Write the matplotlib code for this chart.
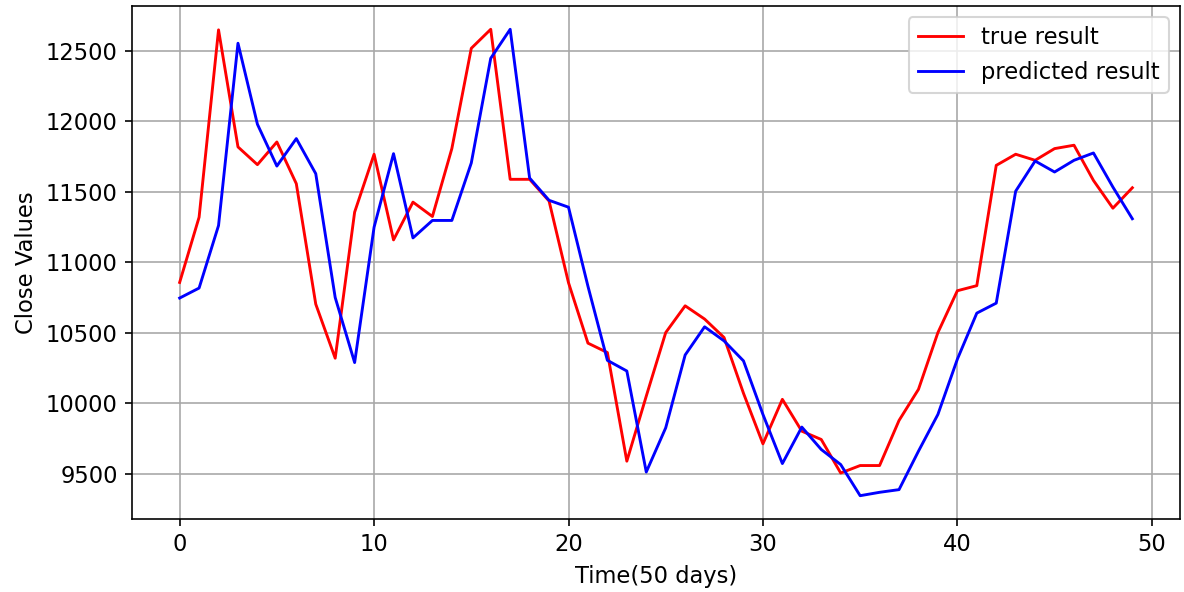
import numpy as np
import matplotlib
matplotlib.use('Agg')
import matplotlib.pyplot as plt

# values
days = list(range(50))
true_result = [10857, 11320, 12650, 11819, 11693, 11854, 11558, 10703, 10319, 11356,
               11767, 11159, 11427, 11325, 11807, 12519, 12654, 11589, 11589, 11435,
               10855, 10426, 10359, 9588, 10050, 10501, 10691, 10597, 10466, 10070,
               9711, 10027, 9801, 9742, 9504, 9557, 9557, 9877, 10098, 10501,
               10798, 10834, 11688, 11767, 11724, 11807, 11831, 11581, 11384, 11529]
predicted_result = [10746, 10817, 11261, 12555, 11980, 11683, 11878, 11629, 10750, 10288,
                    11249, 11771, 11173, 11297, 11297, 11705, 12448, 12654, 11598, 11440,
                    11391, 10830, 10304, 10228, 9511, 9825, 10342, 10542, 10442, 10300,
                    9920, 9571, 9830, 9671, 9564, 9343, 9367, 9386, 9659, 9920,
                    10312, 10639, 10710, 11505, 11719, 11641, 11724, 11776, 11534, 11309]

plt.rcParams['font.size'] = 11

fig, ax = plt.subplots(figsize=(8, 4), dpi=148)
fig.subplots_adjust(left=0.1115, right=0.9966, top=0.9899, bottom=0.1233)

ax.plot(days, true_result, color='r', label='true result', linewidth=1.4)
ax.plot(days, predicted_result, color='b', label='predicted result', linewidth=1.4)

ax.set_xlabel('Time(50 days)')
ax.set_ylabel('Close Values')
ax.set_xticks([0, 10, 20, 30, 40, 50])
ax.set_yticks([9500, 10000, 10500, 11000, 11500, 12000, 12500])

ax.grid(True, color='#a8a8a8')
ax.legend(loc='upper right')

plt.savefig('out.png', dpi=148)
